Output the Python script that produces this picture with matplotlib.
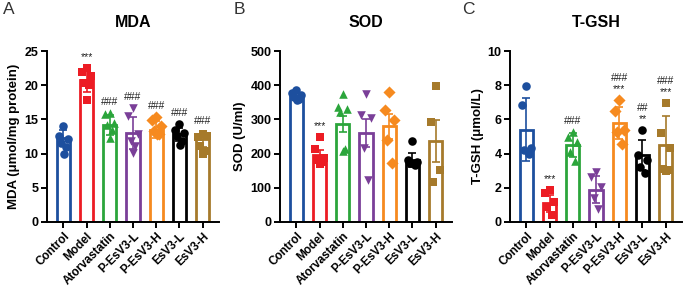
import numpy as np
import matplotlib
matplotlib.use("Agg")
import matplotlib.pyplot as plt

plt.rcParams['font.family'] = ['Liberation Sans', 'DejaVu Sans']

groups = ["Control", "Model", "Atorvastatin", "P-EsV3-L", "P-EsV3-H", "EsV3-L", "EsV3-H"]
colors = ["#1d4f9e", "#ec1c24", "#2ba53b", "#7a3f98", "#f68a1f", "#000000", "#a67a2b"]
markers = ["o", "s", "^", "v", "D", "o", "s"]

# MDA (umol/mg protein)
mda_points = [
    [14.1, 12.6, 12.1, 11.6, 10.9, 10.0],
    [22.5, 22.0, 21.3, 20.3, 20.0, 17.9],
    [16.0, 15.8, 14.5, 14.2, 13.4, 12.3],
    [16.7, 15.5, 12.8, 11.8, 11.1, 10.1],
    [15.4, 14.9, 14.0, 13.3, 12.9, 12.8],
    [14.3, 13.4, 13.0, 12.6, 11.8, 11.3],
    [12.8, 12.5, 12.6, 11.1, 10.4, 10.0],
]
mda_mean = [12.3, 20.7, 14.2, 13.0, 13.5, 12.8, 12.1]
mda_err = [1.2, 1.7, 1.5, 2.4, 1.2, 0.9, 1.1]
mda_sig = ["", "***", "###", "###", "###", "###", "###"]

# SOD (U/ml)
sod_points = [
    [386, 378, 372, 365, 360, 357],
    [248, 214, 186, 180, 175, 170],
    [373, 335, 330, 323, 212, 208],
    [373, 314, 304, 216, 123],
    [380, 328, 299, 240, 172],
    [237, 180, 176, 172, 168],
    [397, 292, 152, 118],
]
sod_mean = [368, 197, 287, 260, 280, 182, 236]
sod_err = [10, 14, 24, 42, 36, 20, 62]
sod_sig = ["", "***", "", "", "", "", ""]

# T-GSH (umol/L)
gsh_points = [
    [7.95, 6.85, 4.35, 4.2, 4.0],
    [1.86, 1.67, 1.18, 0.88, 0.39],
    [5.26, 5.0, 4.7, 4.12, 3.57],
    [2.94, 2.65, 2.06, 1.41, 0.75],
    [7.16, 6.47, 5.39, 5.26, 4.55],
    [5.39, 3.92, 3.63, 3.24, 2.85],
    [6.96, 5.2, 4.3, 3.1, 3.05, 3.0],
]
gsh_mean = [5.4, 1.1, 4.5, 1.9, 5.8, 3.9, 4.5]
gsh_err = [1.85, 0.5, 0.7, 0.8, 0.95, 0.88, 1.7]
gsh_sig = ["", "***", "###", "", "###\n***", "##\n**", "###\n***"]

panels = [
    ("A", "MDA", "MDA (\u03bcmol/mg protein)", mda_points, mda_mean, mda_err, mda_sig, 25, 5),
    ("B", "SOD", "SOD (U/ml)", sod_points, sod_mean, sod_err, sod_sig, 500, 100),
    ("C", "T-GSH", "T-GSH (\u03bcmol/L)", gsh_points, gsh_mean, gsh_err, gsh_sig, 10, 2),
]

W, H = 685, 296
fig = plt.figure(figsize=(W / 100, H / 100), dpi=100)
lefts = [47, 280, 510]
letter_x = [3, 234, 462]
jitter = np.array([0.0, -0.2, 0.2, -0.1, 0.1, 0.02])

for k, (letter, title, ylabel, pts, mean, err, sig, ymax, ystep) in enumerate(panels):
    ax = fig.add_axes([lefts[k] / W, 1 - 222 / H, 172 / W, 171 / H])
    x = np.arange(len(groups))
    ax.bar(x, mean, width=0.58, facecolor="white", edgecolor=colors, linewidth=2.0, zorder=2)
    for i in range(len(groups)):
        vals = np.array(pts[i])
        xs = x[i] + np.resize(jitter, len(vals))
        ax.scatter(xs, vals, s=38, marker=markers[i], color=colors[i], linewidths=0, zorder=3)
        ax.errorbar(x[i], mean[i], yerr=err[i], color=colors[i], capsize=3.2, elinewidth=1.2,
                    capthick=1.2, fmt="none", zorder=4)
        if sig[i]:
            top = max(vals.max(), mean[i] + err[i])
            ax.text(x[i], top + ymax * 0.035, sig[i], ha="center", va="bottom", fontsize=7.5,
                    color="#222222", linespacing=1.1)
    ax.set_xlim(-0.7, 6.7)
    ax.set_ylim(0, ymax)
    ax.set_yticks(np.arange(0, ymax + ystep / 2, ystep))
    ax.set_xticks(x)
    ax.set_xticklabels(groups, rotation=45, ha="right", rotation_mode="anchor",
                       fontsize=8.5, fontweight="bold")
    for lab in ax.get_yticklabels():
        lab.set_fontweight("bold")
        lab.set_fontsize(9)
    ax.spines["top"].set_visible(False)
    ax.spines["right"].set_visible(False)
    ax.spines["left"].set_linewidth(1.4)
    ax.spines["bottom"].set_linewidth(1.4)
    ax.tick_params(axis="y", length=4.5, width=1.4, pad=1.5)
    ax.tick_params(axis="x", length=4, width=1.4, pad=2)
    ax.set_ylabel(ylabel, fontsize=9.5, fontweight="bold", labelpad=3)
    ax.set_title(title, fontsize=11.5, fontweight="bold", pad=17)
    fig.text(letter_x[k] / W, 1 - 10 / H, letter, fontsize=12.5, color="#333333", va="center", ha="left")

fig.savefig("out.png", dpi=100)
